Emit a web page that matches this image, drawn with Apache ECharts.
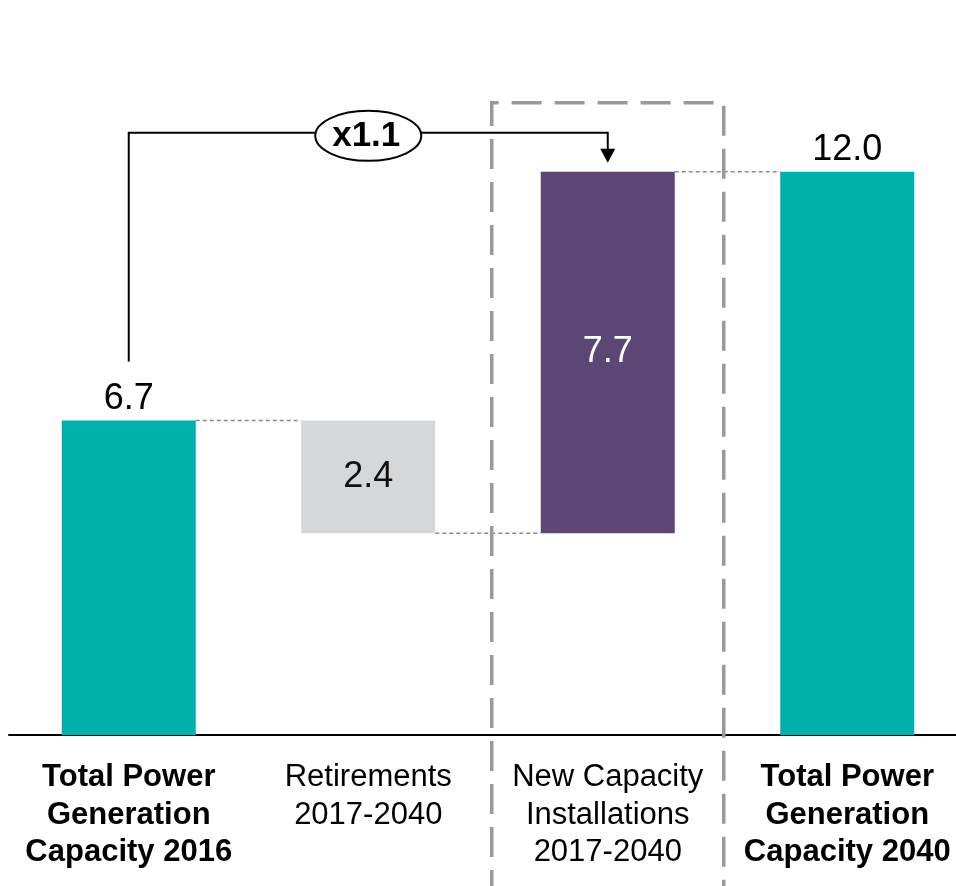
<!DOCTYPE html>
<html>
<head>
<meta charset="utf-8">
<title>Power Generation Capacity 2016-2040</title>
<script src="https://cdn.jsdelivr.net/npm/echarts@6/dist/echarts.min.js"></script>
<style>
  html, body { margin: 0; padding: 0; background: #ffffff; }
  #chart { width: 956px; height: 886px; }
</style>
</head>
<body>
<div id="chart"></div>
<script>
// Waterfall steps: totals and the changes between them
const categories = [
  'Total Power\nGeneration\nCapacity 2016',
  'Retirements\n2017-2040',
  'New Capacity\nInstallations\n2017-2040',
  'Total Power\nGeneration\nCapacity 2040'
];
const stepValues = [6.7, -2.4, 7.7, 12.0];
const isTotal = [true, false, false, true];
const growthLabel = 'x1.1';

// Styling
const FONT = '"Liberation Sans", Arial, Helvetica, sans-serif';
const palette = { total: '#00B0AA', retire: '#D6D7D9', add: '#5C4673' };
const BAR_W = 134;

// Build the invisible base and the visible segment of each bar
const bases = [], heights = [], levels = [];
let running = 0;
stepValues.forEach((v, i) => {
  if (isTotal[i]) {
    bases.push(0);
    heights.push(v);
    running = v;
  } else {
    const next = running + v;
    bases.push(Math.min(running, next));
    heights.push(Math.abs(v));
    running = next;
  }
  levels.push(running);
});

function barColor(i) {
  if (isTotal[i]) return palette.total;
  return stepValues[i] < 0 ? palette.retire : palette.add;
}
function labelColor(i) {
  if (isTotal[i]) return '#000000';
  return stepValues[i] < 0 ? '#111111' : '#ffffff';
}

const chart = echarts.init(document.getElementById('chart'), null, { renderer: 'canvas' });

chart.setOption({
  animation: false,
  backgroundColor: '#ffffff',
  textStyle: { fontFamily: FONT },
  grid: { left: 9, width: 958, top: 78, bottom: 151, containLabel: false, outerBoundsMode: 'none' },
  xAxis: {
    type: 'category',
    data: categories.map((c, i) => ({
      value: c,
      textStyle: { fontWeight: isTotal[i] ? 'bold' : 'normal' }
    })),
    axisLine: { lineStyle: { color: '#000000', width: 2 } },
    axisTick: { show: false },
    axisLabel: {
      interval: 0,
      fontSize: 31,
      lineHeight: 37.5,
      margin: 24,
      color: '#000000',
      fontFamily: FONT
    },
    splitLine: { show: false }
  },
  yAxis: {
    type: 'value',
    min: 0,
    max: 14,
    show: false
  },
  series: [
    {
      type: 'bar',
      stack: 'waterfall',
      barWidth: BAR_W,
      silent: true,
      itemStyle: { color: 'transparent' },
      data: bases
    },
    {
      type: 'bar',
      stack: 'waterfall',
      barWidth: BAR_W,
      data: heights.map((v, i) => ({
        value: v,
        itemStyle: { color: barColor(i) },
        label: {
          position: isTotal[i] ? 'top' : 'inside',
          distance: 4,
          color: labelColor(i)
        }
      })),
      label: {
        show: true,
        fontSize: 36,
        fontFamily: FONT,
        formatter: p => Math.abs(stepValues[p.dataIndex]).toFixed(1)
      }
    }
  ]
});

// Annotations placed from the chart's own coordinate system
function px(cat, val) {
  return chart.convertToPixel({ seriesIndex: 1 }, [cat, val]);
}

const graphics = [];

// Dotted connectors between consecutive bars
for (let i = 0; i < categories.length - 1; i++) {
  const a = px(i, levels[i]);
  const b = px(i + 1, levels[i]);
  graphics.push({
    type: 'line',
    z: 5,
    shape: { x1: a[0] + BAR_W / 2, y1: a[1], x2: b[0] - BAR_W / 2, y2: b[1] },
    style: { stroke: '#8c8c8c', lineWidth: 1.5, lineDash: [4, 3] }
  });
}

// Dashed frame around the new-capacity column
const endTop = px(3, levels[3]);
const addCol = px(2, 0);
const frameTop = endTop[1] - 69;
graphics.push({
  type: 'polyline',
  z: 6,
  shape: {
    points: [
      [addCol[0] - 116, 900],
      [addCol[0] - 116, frameTop],
      [addCol[0] + 116, frameTop],
      [addCol[0] + 116, 900]
    ]
  },
  style: { stroke: '#999999', lineWidth: 3.5, lineDash: [30, 13], lineDashOffset: 0, fill: null }
});

// Growth bracket from the 2016 total to the top of the new capacity bar
const startTop = px(0, levels[0]);
const bracketY = endTop[1] - 39;
const arrowX = addCol[0];
graphics.push({
  type: 'polyline',
  z: 10,
  shape: {
    points: [
      [startTop[0], startTop[1] - 59],
      [startTop[0], bracketY],
      [arrowX, bracketY],
      [arrowX, bracketY + 17]
    ]
  },
  style: { stroke: '#000000', lineWidth: 2, fill: null }
});
graphics.push({
  type: 'polygon',
  z: 10,
  shape: {
    points: [
      [arrowX - 7.5, bracketY + 16],
      [arrowX + 7.5, bracketY + 16],
      [arrowX, bracketY + 30]
    ]
  },
  style: { fill: '#000000' }
});
const midCol = px(1, 0);
graphics.push({
  type: 'ellipse',
  z: 11,
  shape: { cx: midCol[0], cy: bracketY + 3, rx: 53, ry: 25 },
  style: { fill: '#ffffff', stroke: '#000000', lineWidth: 2 }
});
graphics.push({
  type: 'text',
  z: 12,
  x: midCol[0] - 2,
  y: bracketY + 3,
  style: {
    text: growthLabel,
    font: 'bold 35px ' + FONT,
    fill: '#000000',
    align: 'center',
    verticalAlign: 'middle'
  }
});

chart.setOption({ graphic: graphics });
</script>
</body>
</html>
